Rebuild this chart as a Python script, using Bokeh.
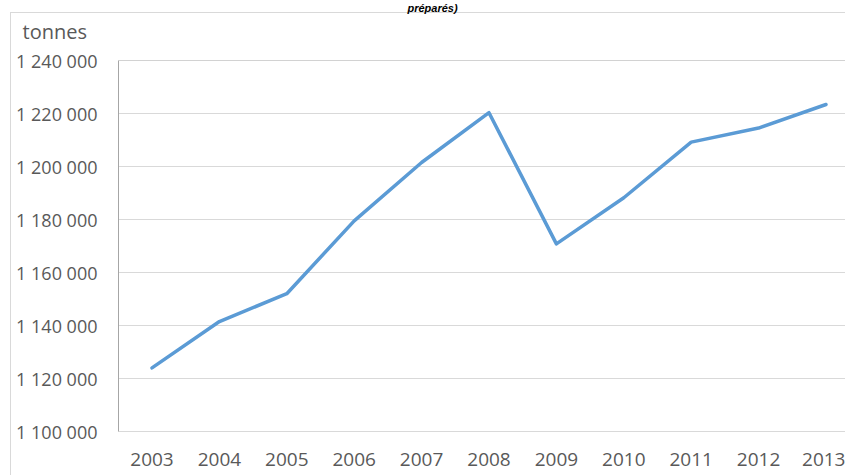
from bokeh.plotting import figure
from bokeh.models import FixedTicker, Range1d, Span, Title
from bokeh.embed import file_html
from bokeh.resources import INLINE

years = [2003, 2004, 2005, 2006, 2007, 2008, 2009, 2010, 2011, 2012, 2013]
tonnes = [1124000, 1141500, 1152000, 1179500, 1201500, 1220300, 1170800, 1188200, 1209200, 1214500, 1223400]
y_ticks = [1100000, 1120000, 1140000, 1160000, 1180000, 1200000, 1220000, 1240000]
y_tick_labels = ["1 100 000", "1 120 000", "1 140 000", "1 160 000", "1 180 000", "1 200 000", "1 220 000", "1 240 000"]
title_text = "préparés)"
unit_text = "tonnes"

W, H = 845, 475
FL, FT, FB = 118, 60, 431
fw = W - FL
xstep = 67.4
x0 = years[0] - (151.5 - FL) / xstep
x1 = x0 + fw / xstep
ymin, ymax = y_ticks[0], y_ticks[-1]

border = "#d9d9d9"
p = figure(width=W, height=H, output_backend="svg", toolbar_location=None,
           x_range=Range1d(x0, x1), y_range=Range1d(ymin, ymax),
           min_border_left=FL, min_border_right=0, min_border_top=FT,
           min_border_bottom=H - FB,
           styles={"background": (f"linear-gradient({border},{border}) 10px 12px / 1px 100% no-repeat, "
                                  f"linear-gradient({border},{border}) 10px 12px / 100% 1px no-repeat, white")})
p.outline_line_color = None
p.background_fill_color = "white"
p.border_fill_alpha = 0

font = "Open Sans"
lab_color = "#595959"

p.xaxis.ticker = FixedTicker(ticks=years)
p.xaxis.major_label_text_font = font
p.xaxis.major_label_text_font_size = "19px"
p.xaxis.major_label_text_color = lab_color
p.xaxis.major_tick_line_color = None
p.xaxis.minor_tick_line_color = None
p.xaxis.axis_line_color = "#d9d9d9"
p.xaxis.major_label_standoff = 15

p.yaxis.ticker = FixedTicker(ticks=y_ticks)
p.yaxis.major_label_overrides = {t: l for t, l in zip(y_ticks, y_tick_labels)}
p.yaxis.major_label_text_font = font
p.yaxis.major_label_text_font_size = "18px"
p.yaxis.major_label_text_color = lab_color
p.yaxis.major_tick_line_color = None
p.yaxis.minor_tick_line_color = None
p.yaxis.axis_line_color = "#a6a6a6"
p.yaxis.major_label_standoff = 15

p.xgrid.grid_line_color = None
p.ygrid.grid_line_color = "#d9d9d9"
p.ygrid.grid_line_width = 1.2

p.add_layout(Span(location=ymax, dimension="width", line_color="#a6a6a6", line_width=1))

p.line(years, tonnes, line_color="#5b9bd5", line_width=3.5, line_join="round", line_cap="round")

# items above the plot area, stacked from the plot outward
p.add_layout(Title(text=" ", standoff=12.5, text_font_size="1px"), "above")  # spacer
p.add_layout(Title(text=unit_text, align="left", offset=22 - FL, standoff=0,
                   text_font=font, text_font_size="20px", text_font_style="normal",
                   text_color=lab_color), "above")
p.add_layout(Title(text=title_text, align="left", offset=407 - FL, standoff=0,
                   vertical_align="top",
                   text_font="Liberation Sans", text_font_style="bold italic",
                   text_font_size="11px", text_color="black"), "above")

open("out.html", "w").write(file_html(p, INLINE))
